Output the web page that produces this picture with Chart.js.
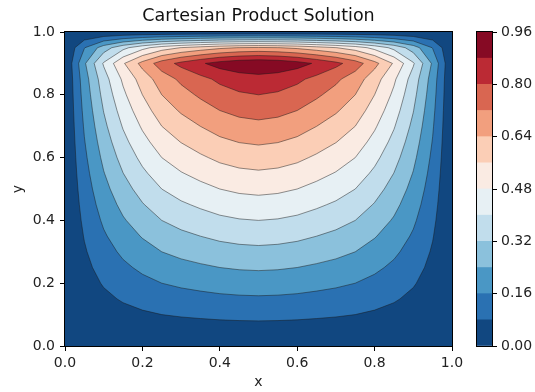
<!DOCTYPE html>
<html>
<head>
<meta charset="utf-8">
<script src="https://cdn.jsdelivr.net/npm/chart.js@4.4.1/dist/chart.umd.min.js"></script>
<style>
    html, body { margin: 0; padding: 0; background: #fff; }
    #wrap { position: relative; width: 535px; height: 392px; }
    #mainChart { position: absolute; left: 0; top: 0; }
    #barChart { position: absolute; left: 470px; top: 0; }
</style>
</head>
<body>
<div id="wrap">
    <canvas id="mainChart" width="517" height="392"></canvas>
    <canvas id="barChart" width="65" height="392"></canvas>
</div>
<script>
// Grid coordinates (21 x 21 mesh)
const xGrid = [0, 0.05, 0.1, 0.15, 0.2, 0.25, 0.3, 0.35, 0.4, 0.45, 0.5, 0.55, 0.6, 0.65, 0.7, 0.75, 0.8, 0.85, 0.9, 0.95, 1];
const yGrid = [0, 0.05, 0.1, 0.15, 0.2, 0.25, 0.3, 0.35, 0.4, 0.45, 0.5, 0.55, 0.6, 0.65, 0.7, 0.75, 0.8, 0.85, 0.9, 0.95, 1];

// Factors of the product solution
const xFactor = [0, 0.24, 0.43, 0.58, 0.70, 0.80, 0.865, 0.915, 0.96, 0.988, 1.0, 0.988, 0.96, 0.915, 0.865, 0.80, 0.70, 0.58, 0.43, 0.24, 0];
const yFactor = [0, 0.05, 0.10, 0.15, 0.20, 0.25, 0.30, 0.35, 0.40, 0.45, 0.50, 0.55, 0.60, 0.65, 0.70, 0.75, 0.80, 0.85, 0.95, 0.65, 0];

// Contour levels and band colours (RdBu_r)
const levels = [0, 0.08, 0.16, 0.24, 0.32, 0.40, 0.48, 0.56, 0.64, 0.72, 0.80, 0.88, 0.96];
const bandColors = [
    'rgb(17,71,128)', 'rgb(42,113,178)', 'rgb(74,151,197)', 'rgb(139,193,220)',
    'rgb(193,221,236)', 'rgb(231,240,244)', 'rgb(250,235,227)', 'rgb(251,206,182)',
    'rgb(242,159,126)', 'rgb(217,102,81)', 'rgb(187,42,52)', 'rgb(134,10,36)'
];
const xTicks = [0, 0.2, 0.4, 0.6, 0.8, 1.0];
const yTicks = [0, 0.2, 0.4, 0.6, 0.8, 1.0];
const barTicks = [0, 0.16, 0.32, 0.48, 0.64, 0.80, 0.96];

// z[j][i] = value at (xGrid[i], yGrid[j])
const zRows = yFactor.map(fy => xFactor.map(fx => fy * fx));

Chart.defaults.font.family = "'DejaVu Sans', sans-serif";
Chart.defaults.color = '#222';

// keep the part of a polygon where v >= lo
function clipAbove(pts, lo) {
    const out = [];
    for (let n = 0; n < pts.length; n++) {
        const a = pts[n], b = pts[(n + 1) % pts.length];
        const ina = a.v >= lo, inb = b.v >= lo;
        if (ina) out.push(a);
        if (ina !== inb) {
            const t = (lo - a.v) / (b.v - a.v);
            out.push({ x: a.x + t * (b.x - a.x), y: a.y + t * (b.y - a.y), v: lo });
        }
    }
    return out;
}

const contourPlugin = {
    id: 'contour',
    beforeDatasetsDraw(chart) {
        const { ctx, chartArea, scales } = chart;
        const px = xGrid.map(v => scales.x.getPixelForValue(v));
        const py = yGrid.map(v => scales.y.getPixelForValue(v));
        const cell = (i, j) => [
            { x: px[i], y: py[j], v: zRows[j][i] },
            { x: px[i + 1], y: py[j], v: zRows[j][i + 1] },
            { x: px[i + 1], y: py[j + 1], v: zRows[j + 1][i + 1] },
            { x: px[i], y: py[j + 1], v: zRows[j + 1][i] }
        ];
        ctx.save();
        ctx.beginPath();
        ctx.rect(chartArea.left, chartArea.top, chartArea.width, chartArea.height);
        ctx.clip();

        // filled bands, painted from the lowest level up
        bandColors.forEach((color, k) => {
            ctx.beginPath();
            for (let j = 0; j < yGrid.length - 1; j++) {
                for (let i = 0; i < xGrid.length - 1; i++) {
                    const poly = clipAbove(cell(i, j), levels[k]);
                    if (poly.length < 3) continue;
                    ctx.moveTo(poly[0].x, poly[0].y);
                    poly.slice(1).forEach(p => ctx.lineTo(p.x, p.y));
                    ctx.closePath();
                }
            }
            ctx.fillStyle = color;
            ctx.fill();
        });

        // contour lines
        ctx.strokeStyle = 'rgba(25,25,25,0.8)';
        ctx.lineWidth = 0.6;
        ctx.beginPath();
        levels.slice(1, -1).forEach(L => {
            for (let j = 0; j < yGrid.length - 1; j++) {
                for (let i = 0; i < xGrid.length - 1; i++) {
                    const q = cell(i, j);
                    const hits = [];
                    for (let n = 0; n < 4; n++) {
                        const a = q[n], b = q[(n + 1) % 4];
                        if ((a.v >= L) !== (b.v >= L)) {
                            const t = (L - a.v) / (b.v - a.v);
                            hits.push([a.x + t * (b.x - a.x), a.y + t * (b.y - a.y)]);
                        }
                    }
                    for (let h = 0; h + 1 < hits.length; h += 2) {
                        ctx.moveTo(hits[h][0], hits[h][1]);
                        ctx.lineTo(hits[h + 1][0], hits[h + 1][1]);
                    }
                }
            }
        });
        ctx.stroke();
        ctx.restore();
    }
};

const framePlugin = {
    id: 'frame',
    afterDraw(chart) {
        const { ctx, chartArea: a } = chart;
        ctx.save();
        ctx.strokeStyle = '#000';
        ctx.lineWidth = 1;
        ctx.strokeRect(Math.round(a.left) - 0.5, Math.round(a.top) - 0.5,
            Math.round(a.right) - Math.round(a.left) + 1, Math.round(a.bottom) - Math.round(a.top) + 1);
        ctx.restore();
    }
};

const tickFont = { size: 14 };

new Chart(document.getElementById('mainChart'), {
    type: 'scatter',
    data: {
        datasets: [{
            data: yGrid.flatMap(y => xGrid.map(x => ({ x, y }))),
            pointRadius: 0,
            pointHoverRadius: 0
        }]
    },
    options: {
        responsive: false,
        animation: false,
        devicePixelRatio: 1,
        plugins: {
            legend: { display: false },
            tooltip: { enabled: false },
            title: {
                display: true,
                text: 'Cartesian Product Solution',
                color: '#111',
                font: { size: 17.5, weight: 'normal' },
                padding: { top: 6, bottom: 5 }
            }
        },
        scales: {
            x: {
                type: 'linear',
                min: 0, max: 1,
                afterBuildTicks: s => { s.ticks = xTicks.map(v => ({ value: v })); },
                afterFit: s => { s.height = 46; },
                ticks: { callback: v => v.toFixed(1), font: tickFont, padding: 4, maxRotation: 0 },
                grid: { drawOnChartArea: false, tickLength: 5, color: '#000' },
                border: { display: false },
                title: { display: true, text: 'x', font: { size: 14 }, padding: { top: 0, bottom: 1 } }
            },
            y: {
                type: 'linear',
                min: 0, max: 1,
                afterBuildTicks: s => { s.ticks = yTicks.map(v => ({ value: v })); },
                afterFit: s => { s.width = 65; },
                ticks: { callback: v => v.toFixed(1), font: tickFont, padding: 5 },
                grid: { drawOnChartArea: false, tickLength: 5, color: '#000' },
                border: { display: false },
                title: { display: true, text: 'y', font: { size: 14 }, padding: { top: 10, bottom: 0 } }
            },
            // empty right-hand axis so the title is centred over the plot
            yRight: {
                type: 'linear',
                position: 'right',
                min: 0, max: 1,
                afterFit: s => { s.width = 65; },
                ticks: { display: false },
                grid: { display: false },
                border: { display: false }
            }
        }
    },
    plugins: [contourPlugin, framePlugin]
});

// Colour bar: one stacked bar, one segment per band
new Chart(document.getElementById('barChart'), {
    type: 'bar',
    data: {
        labels: [''],
        datasets: bandColors.map((c, k) => ({
            data: [levels[k + 1] - levels[k]],
            backgroundColor: c,
            borderWidth: 0,
            barPercentage: 1,
            categoryPercentage: 1
        }))
    },
    options: {
        responsive: false,
        animation: false,
        devicePixelRatio: 1,
        layout: { padding: { left: 7, top: 32, bottom: 46, right: 0 } },
        plugins: { legend: { display: false }, tooltip: { enabled: false } },
        scales: {
            x: { display: false, stacked: true },
            y: {
                position: 'right',
                stacked: true,
                min: 0, max: 0.96,
                afterBuildTicks: s => { s.ticks = barTicks.map(v => ({ value: v })); },
                afterFit: s => { s.width = 43; },
                ticks: { callback: v => v.toFixed(2), font: tickFont, padding: 4 },
                grid: { drawOnChartArea: false, tickLength: 5, color: '#000' },
                border: { display: false }
            }
        }
    },
    plugins: [framePlugin]
});
</script>
</body>
</html>
